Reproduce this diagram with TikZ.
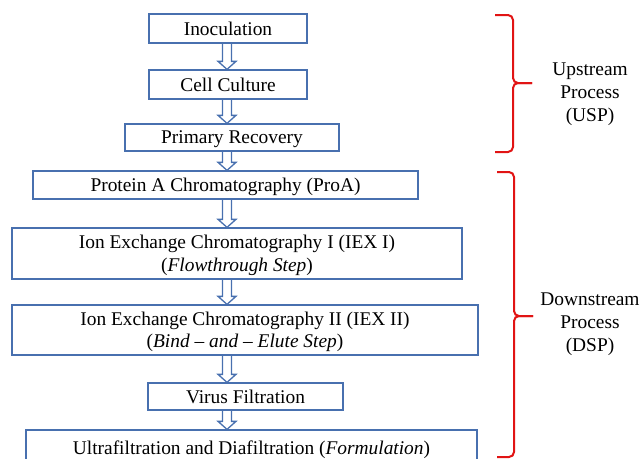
\documentclass[tikz,border=0pt]{standalone}
\usepackage{fontspec}
\setmainfont{Liberation Serif}
\usetikzlibrary{calc}
\definecolor{boxblue}{RGB}{72,112,175}
\definecolor{brkred}{RGB}{225,20,20}
\newcommand\flowarrow[2]{\draw[flowarr] let \p1=(#1.south -| ax), \p2=(#2.north -| ax) in
  (\x1-4.5pt,\y1) -- (\x1-4.5pt,\y2+8pt) -- (\x1-9pt,\y2+8pt) -- (\x2,\y2) -- (\x1+9pt,\y2+8pt) -- (\x1+4.5pt,\y2+8pt) -- (\x1+4.5pt,\y1);}
\begin{document}
\begin{tikzpicture}[x=1pt,y=-1pt,
 stepbox/.style={draw=boxblue, line width=1.3pt, inner sep=0pt, align=center, text depth=0pt, font=\fontsize{19.4}{22.5}\selectfont},
 flowarr/.style={draw=boxblue, line width=1.3pt, line join=miter},
 brk/.style={draw=brkred, line width=2pt, rounded corners=5pt},
 lab/.style={align=center, font=\fontsize{19.4}{22.8}\selectfont}]
\useasboundingbox (0,0) rectangle (644,458);
\clip (0,0) rectangle (644,458);
\coordinate (ax) at (227,0);
\node[stepbox, minimum width=158, minimum height=29] (ino) at (228,28.5) {Inoculation};
\node[stepbox, minimum width=158, minimum height=29] (cell) at (228,84.5) {Cell Culture};
\node[stepbox, minimum width=214, minimum height=27] (prim) at (232,137.5) {Primary Recovery};
\node[stepbox, minimum width=385, minimum height=28] (proa) at (225.5,185) {Protein A Chromatography (ProA)};
\node[stepbox, minimum width=450, minimum height=51] (iex1) at (237,253.5) {Ion Exchange Chromatography I (IEX I)\\(\textit{Flowthrough Step})};
\node[stepbox, minimum width=466, minimum height=50] (iex2) at (245,330) {Ion Exchange Chromatography II (IEX II)\\(\textit{Bind -- and -- Elute Step})};
\node[stepbox, minimum width=195, minimum height=27] (vf) at (245.5,396.5) {Virus Filtration};
\node[stepbox, minimum width=451, minimum height=36] (uf) at (251.5,448) {Ultrafiltration and Diafiltration (\textit{Formulation})};
\flowarrow{ino}{cell}
\flowarrow{cell}{prim}
\flowarrow{prim}{proa}
\flowarrow{proa}{iex1}
\flowarrow{iex1}{iex2}
\flowarrow{iex2}{vf}
\flowarrow{vf}{uf}
\coordinate (u1) at (495,15);
\coordinate (u2) at (495,152);
\coordinate (uc) at (532,83);
\draw[brk] (u1) -- (513,15) -- (513,83) -- (uc);
\draw[brk] (u2) -- (513,152) -- (513,83) -- (uc);
\coordinate (d1) at (497,172);
\coordinate (d2) at (497,457);
\coordinate (dc) at (533,316);
\draw[brk] (d1) -- (514,172) -- (514,316) -- (dc);
\draw[brk] (d2) -- (514,457) -- (514,316) -- (dc);
\node[lab] (usp) at (590,94) {Upstream\\Process\\(USP)};
\node[lab] (dsp) at (590,324) {Downstream\\Process\\(DSP)};
\end{tikzpicture}
\end{document}
